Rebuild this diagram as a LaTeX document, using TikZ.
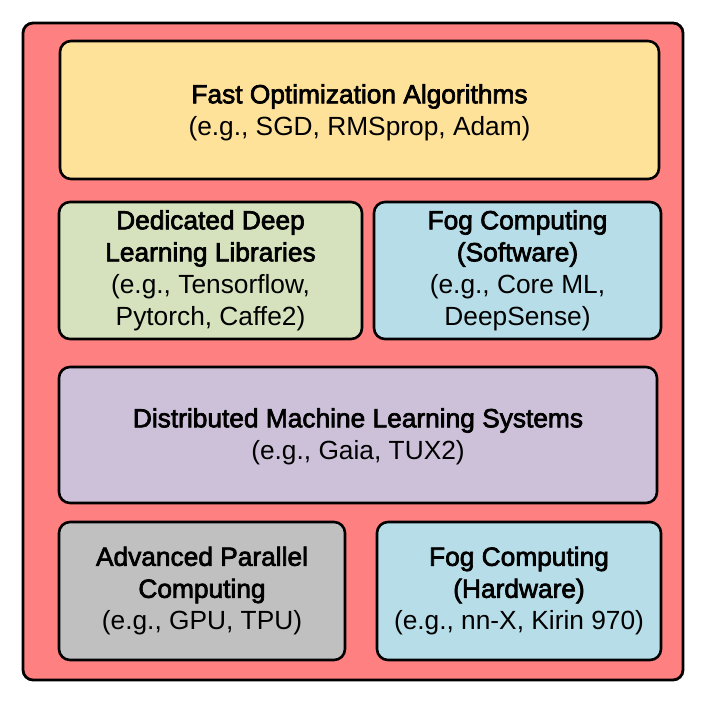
\documentclass[tikz,border=0pt]{standalone}
\usepackage{fontspec}
\setmainfont{Liberation Sans}
\newfontfamily\hfont[FakeBold=2.6]{Liberation Sans}
\definecolor{outerred}{RGB}{255,128,128}
\definecolor{cyellow}{RGB}{255,226,154}
\definecolor{cgreen}{RGB}{214,226,190}
\definecolor{cblue}{RGB}{182,221,232}
\definecolor{cpurple}{RGB}{205,193,218}
\definecolor{cgray}{RGB}{192,192,192}
\newcommand{\hd}[1]{{\hfont #1}}
\begin{document}
\begin{tikzpicture}[x=1pt,y=-1pt,
  box/.style={draw=black,line width=2.6pt,rounded corners=11pt,align=center,
    font=\fontsize{26.3}{32}\selectfont,inner sep=0pt},
  ]
\useasboundingbox (0,0) rectangle (706,703);
\node[draw=black,line width=2.8pt,rounded corners=10pt,fill=outerred,
  minimum width=660pt,minimum height=657pt,inner sep=0pt] (outer) at (353,351.5) {};
\node[box,fill=cyellow,minimum width=599pt,minimum height=138pt] (fast) at (359.5,110) {};
\node[align=center,font=\fontsize{26.3}{32}\selectfont,inner sep=0pt] (fasttxt) at (359.5,112.5)
  {\hd{Fast Optimization Algorithms}\\(e.g., SGD, RMSprop, Adam)};
\node[box,fill=cgreen,minimum width=303pt,minimum height=137pt] (ddl) at (210.5,270.5)
  {\hd{Dedicated Deep}\\\hd{Learning Libraries}\\(e.g., Tensorflow,\\Pytorch, Caffe2)};
\node[box,fill=cblue,minimum width=287pt,minimum height=137pt] (fogsw) at (517.5,270.5)
  {\hd{Fog Computing}\\\hd{(Software)}\\(e.g., Core ML,\\DeepSense)};
\node[box,fill=cpurple,minimum width=598pt,minimum height=136pt] (dml) at (358,435) {};
\node[align=center,font=\fontsize{26.3}{32}\selectfont,inner sep=0pt] (dmltxt) at (358,436.5)
  {\hd{Distributed Machine Learning Systems}\\(e.g., Gaia, TUX2)};
\node[box,fill=cgray,minimum width=286pt,minimum height=138pt] (apc) at (202,591)
  {\hd{Advanced Parallel}\\\hd{Computing}\\(e.g., GPU, TPU)};
\node[box,fill=cblue,minimum width=284pt,minimum height=138pt] (foghw) at (519,591)
  {\hd{Fog Computing}\\\hd{(Hardware)}\\(e.g., nn-X, Kirin 970)};
\end{tikzpicture}
\end{document}
